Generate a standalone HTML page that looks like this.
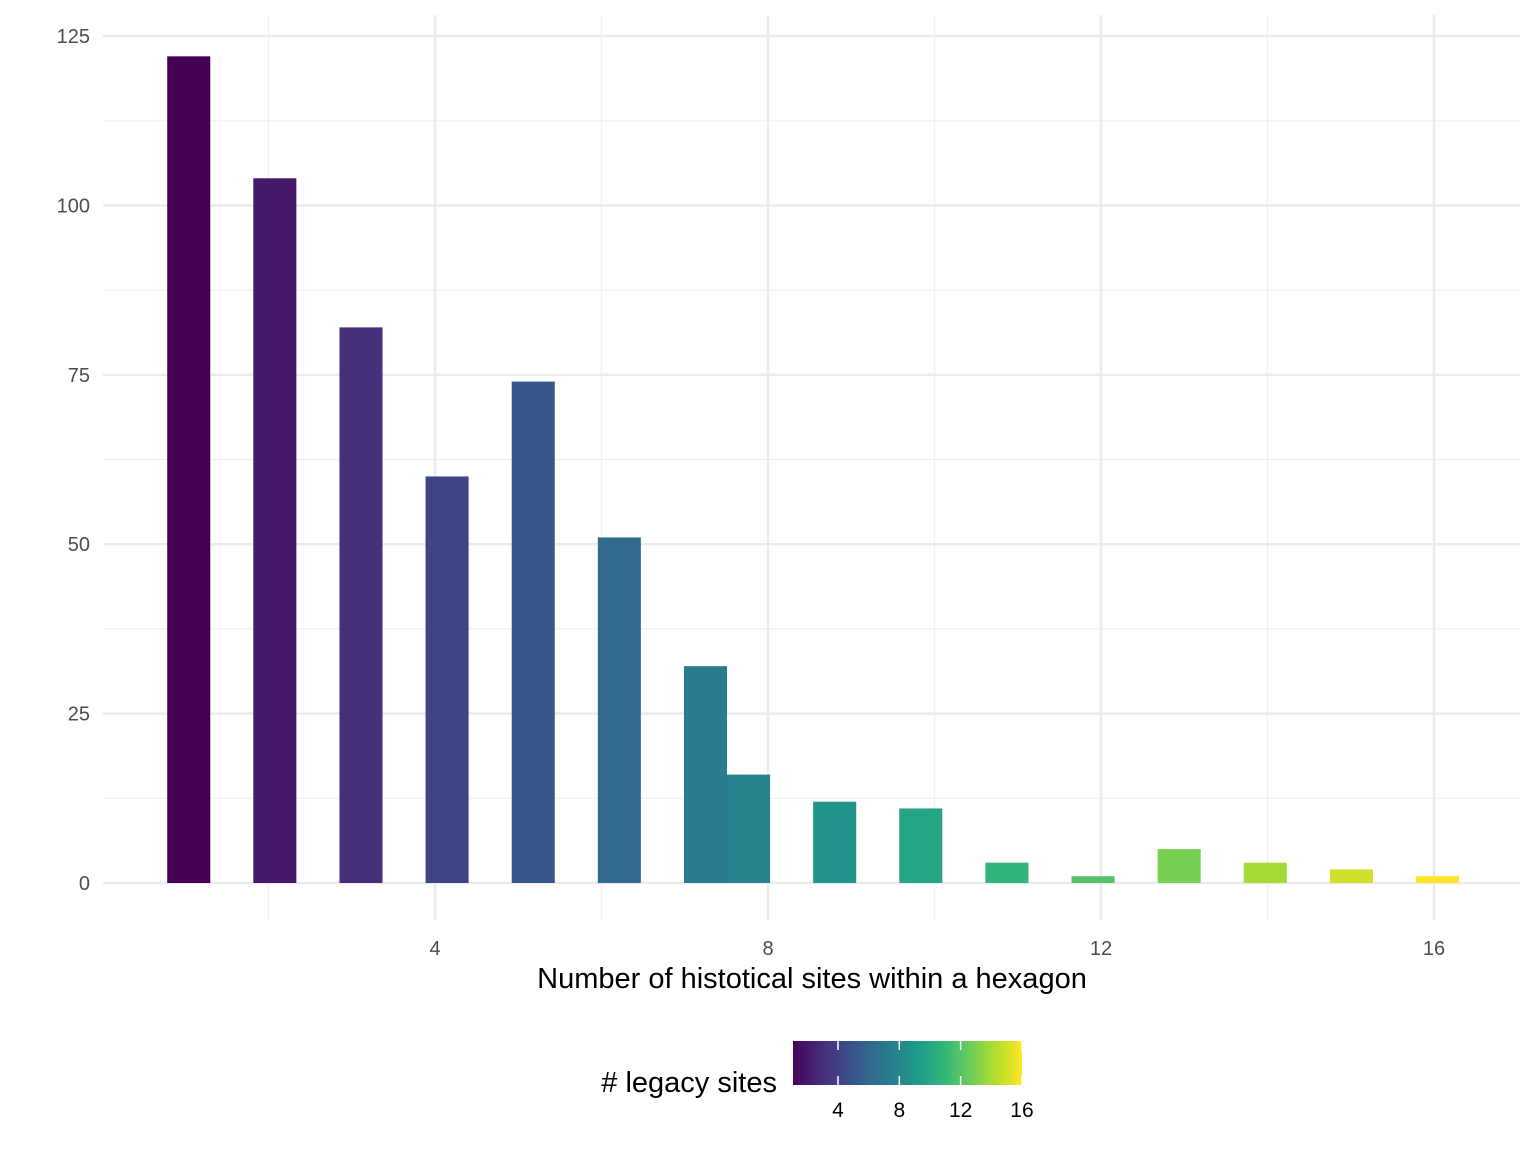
<!DOCTYPE html>
<html><head><meta charset="utf-8"><style>
body{margin:0;background:#fff;font-family:"Liberation Sans",sans-serif}
svg text{font-family:"Liberation Sans",sans-serif}
</style></head><body>
<svg id="c" width="1536" height="1152" xmlns="http://www.w3.org/2000/svg">
<defs><linearGradient id="vg" x1="0" x2="1" y1="0" y2="0">
<stop offset="0" stop-color="#450457"/><stop offset="0.111" stop-color="#482878"/><stop offset="0.222" stop-color="#3e4989"/><stop offset="0.333" stop-color="#31688e"/><stop offset="0.444" stop-color="#26828e"/><stop offset="0.556" stop-color="#1f9e89"/><stop offset="0.667" stop-color="#35b779"/><stop offset="0.778" stop-color="#6ece58"/><stop offset="0.889" stop-color="#b5de2b"/><stop offset="1" stop-color="#fde725"/>
</linearGradient></defs>
<g id="grid"></g><g id="bars"></g><g id="axes"></g><g id="legend"></g>
</svg>
<script>
const binCenters=[1,2.034,3.069,4.103,5.138,6.172,7.207,7.724,8.759,9.793,10.828,11.862,12.897,13.931,14.966,16];
const counts=[122,104,82,60,74,51,32,16,12,11,3,1,5,3,2,1];
const xTicks=[4,8,12,16];
const yTicks=[0,25,50,75,100,125];
const legendTicks=[4,8,12,16];
const binWidth=15/29;
const NS="http://www.w3.org/2000/svg";
const X=v=>102+v*83.25, Y=v=>883-v*6.776;
const vir=["#440154","#482878","#3e4989","#31688e","#26828e","#1f9e89","#35b779","#6ece58","#b5de2b","#fde725"];
function col(v){let t=(v-1)/15;t=Math.max(0,Math.min(1,t));let p=t*9,i=Math.min(8,Math.floor(p)),f=p-i;
const a=vir[i],b=vir[i+1];const h=(s,k)=>parseInt(s.substr(1+2*k,2),16);
return "rgb("+[0,1,2].map(k=>Math.round(h(a,k)+(h(b,k)-h(a,k))*f)).join(",")+")";}
function el(tag,attrs,parent,text){const e=document.createElementNS(NS,tag);for(const k in attrs)e.setAttribute(k,attrs[k]);if(text!==undefined)e.textContent=text;parent.appendChild(e);return e;}
const grid=document.getElementById('grid'),bars=document.getElementById('bars'),axes=document.getElementById('axes'),leg=document.getElementById('legend');
[2,6,10,14].forEach(v=>{const l=el('line',{x1:X(v),x2:X(v),y1:15,y2:920,stroke:'#f0f0f0','stroke-width':1.2},grid);
});
[12.5,37.5,62.5,87.5,112.5].forEach(v=>{const l=el('line',{x1:103,x2:1520,y1:Y(v),y2:Y(v),stroke:'#f0f0f0','stroke-width':1.2},grid);
});
xTicks.forEach(v=>{const l=el('line',{x1:X(v),x2:X(v),y1:15,y2:920,stroke:'#ebebeb','stroke-width':2.4},grid);

const t=el('text',{x:X(v),y:955,'text-anchor':'middle','font-size':20,fill:'#4d4d4d'},axes,v);
});
yTicks.forEach(v=>{const l=el('line',{x1:103,x2:1520,y1:Y(v),y2:Y(v),stroke:'#ebebeb','stroke-width':2.4},grid);

const t=el('text',{x:90,y:Y(v)+7,'text-anchor':'end','font-size':20,fill:'#4d4d4d'},axes,v);
});
binCenters.forEach((c,i)=>{const x0=X(c-binWidth/2)+3.5,x1=X(c+binWidth/2)+3.5;
const r=el('rect',{x:x0,y:Y(counts[i]),width:x1-x0,height:Y(0)-Y(counts[i]),fill:col(c)},bars);
});
const xt=el('text',{x:812,y:988,'text-anchor':'middle','font-size':29,fill:'#000'},axes,'Number of histotical sites within a hexagon');

const lt=el('text',{x:777,y:1092,'text-anchor':'end','font-size':29,fill:'#000'},leg,'# legacy sites');

const LX=v=>838+(v-4)*15.33;
const lb=el('rect',{x:793,y:1041,width:229,height:44,fill:'url(#vg)'},leg);

legendTicks.forEach(v=>{el('line',{x1:LX(v),x2:LX(v),y1:1041,y2:1050,stroke:'#fff','stroke-width':1.5},leg);
el('line',{x1:LX(v),x2:LX(v),y1:1076,y2:1085,stroke:'#fff','stroke-width':1.5},leg);
const t=el('text',{x:LX(v),y:1117,'text-anchor':'middle','font-size':21,fill:'#000'},leg,v);
});
</script>
</body></html>
